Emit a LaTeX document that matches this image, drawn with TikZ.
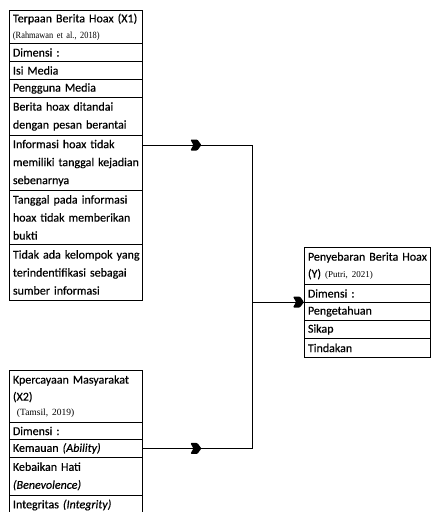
\documentclass[tikz,border=0pt]{standalone}
\usepackage{fontspec}
\setmainfont{Carlito}[FakeBold=0.4]
\newfontfamily\citefont{Liberation Serif}
\usetikzlibrary{calc}
\newcommand{\citesz}[1]{\citefont\fontsize{#1}{11}\selectfont}
\newcommand{\oneline}[1]{\mbox{#1}}
\newcommand{\bodyfont}{\fontsize{12}{18}\selectfont\fontdimen2\font=1.6pt\relax}
\begin{document}
\begin{tikzpicture}[x=1pt,y=-1pt,
  row/.style={draw=black,line width=0.9pt,anchor=north west,inner xsep=3.5pt,inner ysep=0pt,
    align=left,font=\bodyfont},
  lbox/.style={row,text width=126pt},
  rbox/.style={row,text width=119pt},
  conn/.style={line width=0.9pt,draw=black},
  chev/.pic={\fill[black,rounded corners=1pt] (0,0) -- (-4,-5.5) -- (-11,-5.5) -- (-8,0) -- (-11,5.5) -- (-4,5.5) -- cycle;}
]
\useasboundingbox (0,0) rectangle (431,512);
\clip (0,0) rectangle (431,512);
\fill[white] (0,0) rectangle (431,512);
% X1 box
\node[lbox,minimum height=33pt] (x1t) at (9,10) {\oneline{Terpaan Berita Hoax (X1)}\\[-2pt]{\citesz{9.5}\scalebox{0.88}[1]{(Rahmawan et al., 2018)}}};
\node[lbox,minimum height=18pt] (x1d) at (9,43) {Dimensi :};
\node[lbox,minimum height=18pt] (x1i) at (9,61) {Isi Media};
\node[lbox,minimum height=18pt] (x1p) at (9,79) {Pengguna Media};
\node[lbox,minimum height=38pt] (x1b) at (9,97) {\oneline{Berita hoax ditandai}\\\oneline{dengan pesan berantai}};
\node[lbox,minimum height=55pt] (x1n) at (9,135) {\oneline{Informasi hoax tidak}\\\oneline{memiliki tanggal kejadian}\\sebenarnya};
\node[lbox,minimum height=54pt] (x1g) at (9,190) {\oneline{Tanggal pada informasi}\\\oneline{hoax tidak memberikan}\\bukti};
\node[lbox,minimum height=56pt] (x1k) at (9,244) {\oneline{Tidak ada kelompok yang}\\\oneline{terindentifikasi sebagai}\\\oneline{sumber informasi}};
% X2 box
\node[lbox,minimum height=52pt] (x2t) at (9,370) {\oneline{Kpercayaan Masyarakat}\\[-1pt](X2)\\[-3pt]{\citesz{9.5}\ (Tamsil, 2019)}};
\node[lbox,minimum height=17pt] (x2d) at (9,422) {Dimensi :};
\node[lbox,minimum height=18pt] (x2a) at (9,439) {\oneline{Kemauan \textit{(Ability)}}};
\node[lbox,minimum height=38pt] (x2b) at (9,457) {Kebaikan Hati\\\textit{(Benevolence)}};
\node[lbox,minimum height=19pt] (x2g) at (9,495) {\oneline{Integritas \textit{(Integrity)}}};
% Y box
\node[rbox,minimum height=37pt] (yt) at (304,247) {\oneline{Penyebaran Berita Hoax}\\[-1pt](Y) {\citesz{9}(Putri, 2021)}};
\node[rbox,minimum height=18pt] (yd) at (304,284) {Dimensi :};
\node[rbox,minimum height=18pt] (yp) at (304,302) {Pengetahuan};
\node[rbox,minimum height=18pt] (ys) at (304,320) {Sikap};
\node[rbox,minimum height=19pt] (yn) at (304,338) {Tindakan};
% connectors
\coordinate (jx) at (252,0);
\coordinate (s1) at ([yshift=-10pt]x1n.north east);
\coordinate (c1) at (s1 -| jx);
\coordinate (c2) at (x2a.east -| jx);
\coordinate (c3) at (yp.north west -| jx);
\draw[conn] (s1) -- (c1) -- (c2) -- (x2a.east);
\draw[conn] (c3) -- (yp.north west);
\path (s1) -- (c1) pic[pos=0.536]{chev};
\path (x2a.east) -- (c2) pic[pos=0.536]{chev};
\path (c3) -- (yp.north west) pic[pos=1]{chev};
\end{tikzpicture}
\end{document}
